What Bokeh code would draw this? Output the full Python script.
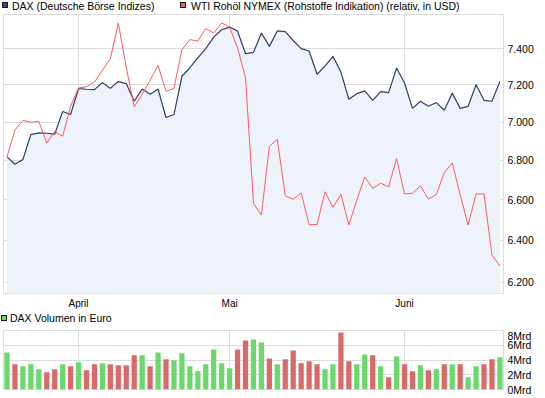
from bokeh.plotting import figure
from bokeh.layouts import column
from bokeh.models import Range1d, FixedTicker, Div
from bokeh.embed import file_html
from bokeh.resources import INLINE

# ---------------- data ----------------
months = ["April", "Mai", "Juni"]
month_idx = [9, 28, 50]

dax = [6818, 6780, 6804, 6934, 6943, 6941, 6936, 7056, 7040, 7180,
       7176, 7174, 7212, 7181, 7218, 7207, 7111, 7177, 7149, 7177,
       7024, 7040, 7247, 7294, 7348, 7400, 7465, 7507, 7522, 7499,
       7372, 7379, 7488, 7413, 7500, 7496, 7446, 7400, 7387, 7258,
       7303, 7357, 7270, 7122, 7152, 7167, 7116, 7163, 7158, 7292,
       7210, 7073, 7111, 7084, 7104, 7063, 7155, 7073, 7084, 7201,
       7116, 7111, 7219]

wti_rel = [6818, 6957, 7009, 6999, 7004, 6890, 6951, 6925, 7084, 7183,
           7190, 7215, 7280, 7344, 7545, 7297, 7080, 7149, 7225, 7307,
           7165, 7180, 7394, 7451, 7443, 7513, 7488, 7545, 7522, 7405,
           7238, 6582, 6524, 6873, 6908, 6620, 6602, 6635, 6476, 6478,
           6640, 6562, 6627, 6475, 6598, 6715, 6657, 6683, 6665, 6809,
           6629, 6633, 6670, 6603, 6626, 6736, 6787, 6626, 6475, 6629,
           6629, 6329, 6277]

vol_mrd = [5.03, 3.42, 3.15, 3.42, 2.74, 2.34, 2.74, 3.42, 3.15, 3.69,
           2.61, 3.42, 3.55, 3.42, 3.28, 3.28, 4.63, 4.63, 3.15, 5.03,
           4.09, 3.96, 4.90, 3.15, 2.47, 3.42, 5.44, 3.55, 2.88, 5.44,
           6.65, 6.79, 6.38, 4.22, 3.42, 4.09, 5.30, 3.55, 3.82, 3.42,
           2.74, 3.42, 7.73, 3.82, 3.42, 4.76, 4.63, 3.15, 1.66, 4.49,
           3.42, 2.47, 3.28, 2.61, 2.74, 3.42, 3.42, 3.42, 1.66, 3.15,
           3.42, 4.09, 4.36]

vol_up = [1, 0, 1, 1, 1, 0, 0, 1, 0, 1,
          0, 0, 1, 0, 0, 0, 0, 1, 0, 1,
          0, 1, 1, 1, 1, 1, 1, 1, 1, 0,
          0, 1, 1, 0, 1, 0, 0, 0, 0, 0,
          1, 1, 0, 0, 1, 1, 0, 1, 0, 1,
          0, 0, 1, 0, 1, 0, 1, 0, 1, 1,
          0, 0, 1]

price_ticks = [6200, 6400, 6600, 6800, 7000, 7200, 7400]
price_labels = ["6.200", "6.400", "6.600", "6.800", "7.000", "7.200", "7.400"]
vol_ticks = [0, 2, 4, 6, 8]
vol_labels = ["0Mrd", "2Mrd", "4Mrd", "6Mrd", "8Mrd"]

legend_dax = "DAX (Deutsche Börse Indizes)"
legend_wti = "WTI Rohöl NYMEX (Rohstoffe Indikation) (relativ, in USD)"
legend_vol = "DAX Volumen in Euro"

# ---------------- style ----------------
FONT = "Liberation Sans"
GRID = "#dcdcdc"
DAX_COLOR = "#2f3d6c"
WTI_COLOR = "#ff5a5a"
FILL = "#eef2fa"
UP = "#6ad86a"
DOWN = "#d96a6a"

x = list(range(len(dax)))
xr = Range1d(-0.44, 62.45)


def style_axes(p, yticks, ylabels):
    p.yaxis.ticker = FixedTicker(ticks=yticks)
    p.yaxis.major_label_overrides = {t: l for t, l in zip(yticks, ylabels)}
    p.yaxis.axis_line_color = None
    p.yaxis.major_tick_line_color = None
    p.yaxis.minor_tick_line_color = None
    p.yaxis.major_tick_out = 0
    p.yaxis.major_tick_in = 0
    p.yaxis.minor_tick_out = 0
    p.yaxis.major_label_standoff = 4
    p.yaxis.major_label_text_font = FONT
    p.yaxis.major_label_text_font_size = "10.5px"
    p.yaxis.major_label_text_color = "black"
    p.ygrid.ticker = FixedTicker(ticks=yticks)
    p.ygrid.grid_line_color = GRID
    p.xgrid.ticker = FixedTicker(ticks=month_idx)
    p.xgrid.grid_line_color = GRID


def swatch(left, top, color):
    return ('<span style="position:absolute;left:%dpx;top:%dpx;width:6px;height:6px;'
            'background:%s;border:1px solid #1a1a1a"></span>' % (left, top, color))


def label(left, top, text):
    return ('<span style="position:absolute;left:%dpx;top:%dpx;line-height:12px;'
            'white-space:nowrap">%s</span>' % (left, top, text))


def legend_div(height, parts):
    html = ('<div style="position:relative;width:545px;height:%dpx;'
            'font-family:\'Liberation Sans\';font-size:10.5px;color:#000">%s</div>'
            % (height, "".join(parts)))
    return Div(text=html, width=545, height=height, margin=0,
               styles={"overflow": "visible"})


# ---------------- legends (HTML) ----------------
div1 = legend_div(13, [swatch(2, 2, "#3b4a7c"), label(12, 0, legend_dax),
                       swatch(180, 2, "#f25f5f"), label(191, 0, legend_wti)])
div2 = legend_div(17, [swatch(1, 3, "#66dd66"), label(10, 0, legend_vol)])

# ---------------- main price panel ----------------
p1 = figure(frame_width=500, frame_height=279,
            min_border_left=3, min_border_right=42,
            min_border_top=1, min_border_bottom=19,
            x_range=xr, y_range=Range1d(6147.7, 7594), y_axis_type="log",
            y_axis_location="right", toolbar_location=None, output_backend="svg",
            background_fill_color="white", border_fill_color="white",
            outline_line_color=GRID, margin=0)

p1.varea(x=x, y1=6000, y2=dax, fill_color=FILL)
p1.line(x, dax, line_color=DAX_COLOR, line_width=1.2)
p1.line(x, wti_rel, line_color=WTI_COLOR, line_width=1)

style_axes(p1, price_ticks, price_labels)
p1.xaxis.ticker = FixedTicker(ticks=month_idx)
p1.xaxis.major_label_overrides = {t: m for t, m in zip(month_idx, months)}
p1.xaxis.axis_line_color = None
p1.xaxis.major_tick_line_color = None
p1.xaxis.minor_tick_line_color = None
p1.xaxis.major_tick_out = 0
p1.xaxis.major_tick_in = 0
p1.xaxis.minor_tick_out = 0
p1.xaxis.major_label_standoff = 4
p1.xaxis.major_label_text_font = FONT
p1.xaxis.major_label_text_font_size = "10px"
p1.xaxis.major_label_text_color = "black"

# ---------------- volume panel ----------------
p2 = figure(frame_width=500, frame_height=59,
            min_border_left=3, min_border_right=42,
            min_border_top=1, min_border_bottom=8,
            x_range=xr, y_range=Range1d(0, 8),
            y_axis_location="right", toolbar_location=None, output_backend="svg",
            background_fill_color="white", border_fill_color="white",
            outline_line_color=GRID, margin=0)

bar_colors = [UP if u else DOWN for u in vol_up]
p2.vbar(x=x, top=vol_mrd, width=0.66, fill_color=bar_colors, line_color=None)
style_axes(p2, vol_ticks, vol_labels)
p2.xaxis.visible = False

layout = column(div1, p1, div2, p2, spacing=0)

open("out.html", "w").write(file_html(layout, INLINE))
